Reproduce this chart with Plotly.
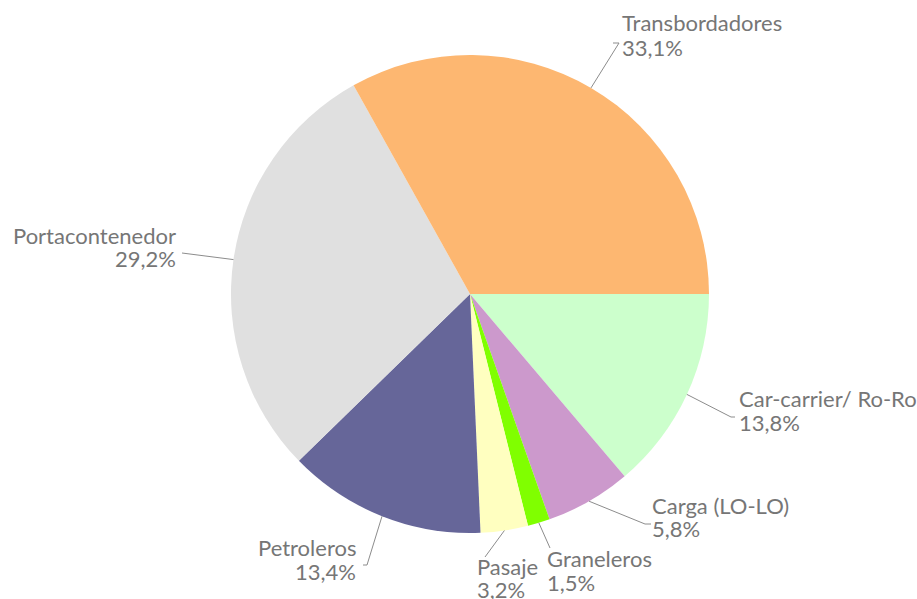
import math
import plotly.graph_objects as go

labels = ["Car-carrier/ Ro-Ro", "Carga (LO-LO)", "Graneleros", "Pasaje",
          "Petroleros", "Portacontenedor", "Transbordadores"]
values = [13.8, 5.8, 1.5, 3.2, 13.4, 29.2, 33.1]
colors = ["#CCFFCC", "#CC99CC", "#80FF00", "#FFFFC0",
          "#666699", "#E0E0E0", "#FDB771"]

# label placement (pixel): x, y of name line, y of percent line, xanchor,
# leader end, optional elbow
label_pos = {
    "Transbordadores": (622, 23, 47, "left", (613, 43), (619, 43)),
    "Portacontenedor": (176, 235, 258, "right", (182, 253), None),
    "Car-carrier/ Ro-Ro": (739, 398, 422, "left", (735, 417), (731, 417)),
    "Carga (LO-LO)": (652, 505, 528, "left", (651, 524), (645, 524)),
    "Graneleros": (547, 558, 582, "left", (550, 548), None),
    "Pasaje": (477, 566, 589, "left", (485, 557), None),
    "Petroleros": (356, 547, 571, "right", (363, 565), (367, 565)),
}

W, H = 917, 599
CX, CY, R = 470, 294, 239
FONT = dict(family="Lato", size=22, color="#767676")


def px(x):
    return x / W


def py(y):
    return 1 - y / H


fig = go.Figure(go.Pie(
    labels=labels, values=values, sort=False, direction="clockwise",
    rotation=90, marker=dict(colors=colors, line=dict(width=0)),
    textinfo="none", hoverinfo="label+percent",
    domain=dict(x=[px(CX - R), px(CX + R)], y=[py(CY + R), py(CY - R)]),
    showlegend=False,
))

total = sum(values)
annotations = []
shapes = []
cum = 0.0
for lab, val in zip(labels, values):
    mid = (cum + val / 2) / total
    cum += val
    ang = mid * 2 * math.pi
    sx = CX + R * math.cos(ang)
    sy = CY + R * math.sin(ang)
    tx, ty1, ty2, xa, end, elbow = label_pos[lab]
    pct = f"{val:.1f}%".replace(".", ",")
    for txt, ty in ((lab, ty1), (pct, ty2)):
        annotations.append(dict(
            x=px(tx), y=py(ty), xref="paper", yref="paper",
            text=txt, showarrow=False, xanchor=xa, yanchor="middle",
            align=xa, font=FONT, borderpad=0,
            xshift=-1 if xa == "left" else 1,
        ))
    pts = [(sx, sy)]
    if elbow is not None:
        pts.append(elbow)
    pts.append(end)
    for (x0, y0), (x1, y1) in zip(pts[:-1], pts[1:]):
        shapes.append(dict(type="line", xref="paper", yref="paper",
                           x0=px(x0), y0=py(y0), x1=px(x1), y1=py(y1),
                           line=dict(color="#8C8C8C", width=1)))

fig.update_layout(
    width=W, height=H, margin=dict(l=0, r=0, t=0, b=0),
    paper_bgcolor="white", plot_bgcolor="white",
    annotations=annotations, shapes=shapes,
)

fig.write_html("out.html", config={"displayModeBar": False},
               post_script="document.body.style.margin='0px';")
